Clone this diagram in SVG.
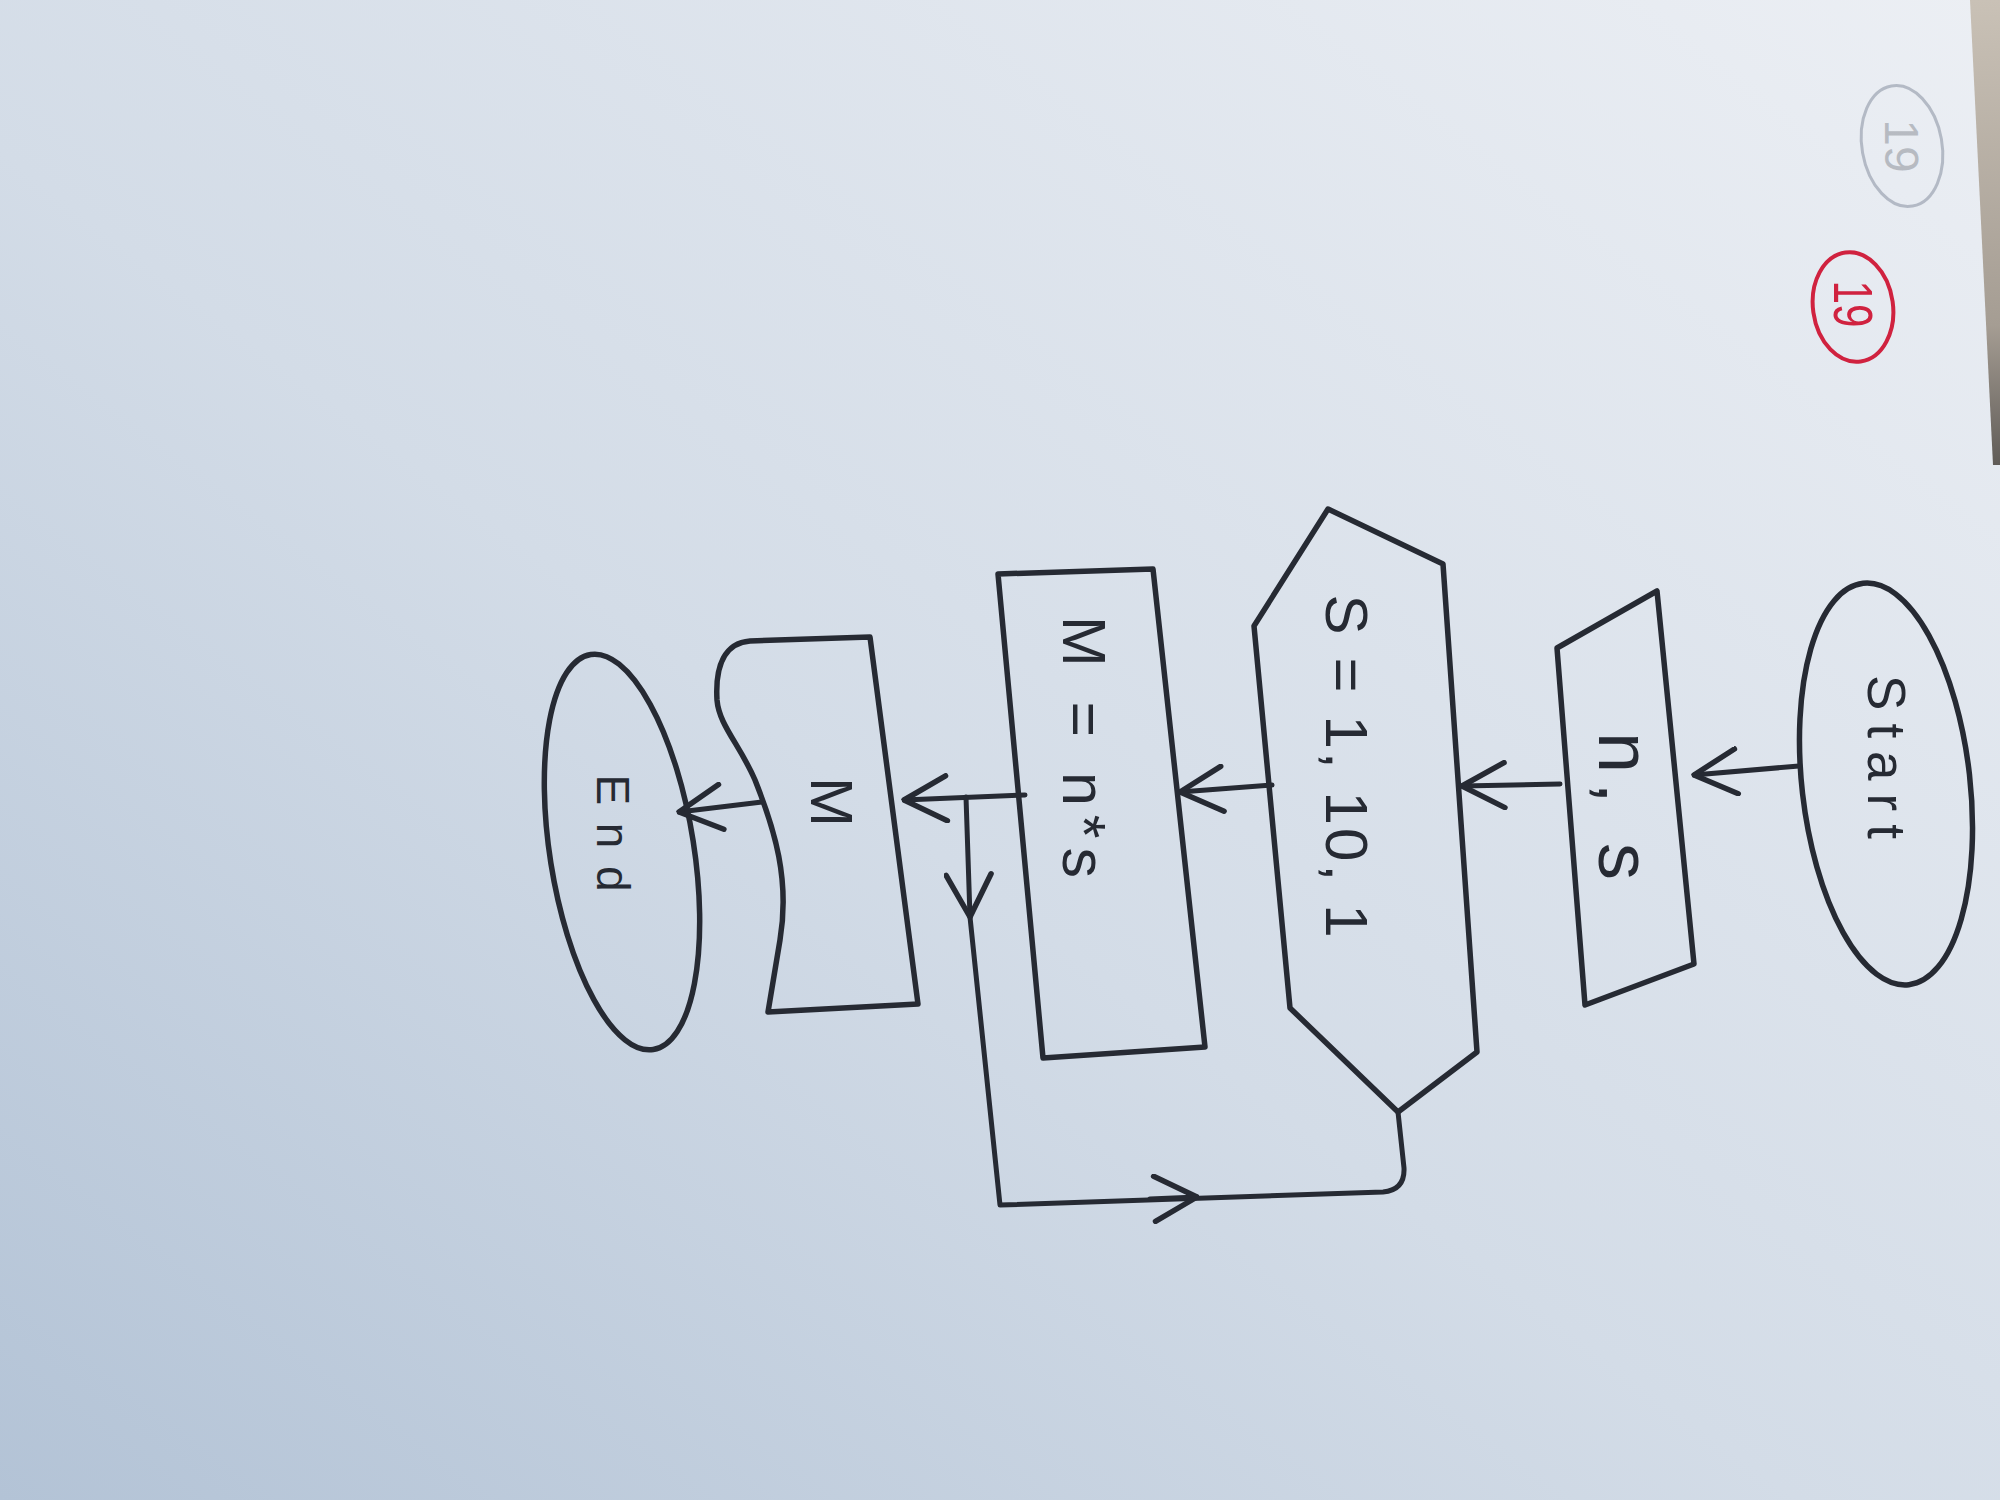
<svg xmlns="http://www.w3.org/2000/svg" width="2000" height="1500" viewBox="0 0 2000 1500">
  <defs>
    <linearGradient id="paper" x1="0" y1="1" x2="1" y2="0">
      <stop offset="0" stop-color="#b3c3d6"/>
      <stop offset="0.45" stop-color="#d3dce7"/>
      <stop offset="1" stop-color="#eceff4"/>
    </linearGradient>
    <linearGradient id="edge" x1="0" y1="0" x2="0" y2="1">
      <stop offset="0" stop-color="#c9c1b6"/>
      <stop offset="0.7" stop-color="#a59d93"/>
      <stop offset="1" stop-color="#5f5b57"/>
    </linearGradient>
    <marker id="arr" viewBox="0 0 20 20" refX="19" refY="10" markerWidth="50" markerHeight="50" markerUnits="userSpaceOnUse" orient="auto">
      <path d="M2,1 L19,10 L2,19" fill="none" stroke="#262a33" stroke-width="2.2" stroke-linecap="round" stroke-linejoin="round"/>
    </marker>
    <style>
      .shape { fill: none; stroke: #262a33; stroke-width: 5.5; stroke-linejoin: round; stroke-linecap: round; }
      .conn { fill: none; stroke: #262a33; stroke-width: 5; stroke-linejoin: round; stroke-linecap: round; }
      .lbl { font-family: "Liberation Sans", Arial, sans-serif; fill: #262a33; }
      .ghost { fill: none; stroke: #8f98a6; stroke-width: 3; opacity: 0.6; }
    </style>
  </defs>

  <rect x="0" y="0" width="2000" height="1500" fill="url(#paper)"/>
  <polygon points="1970,0 2000,0 2000,465 1993,465" fill="url(#edge)"/>

  <g id="ghost-page-number">
    <ellipse class="ghost" cx="1902" cy="146" rx="40" ry="61" transform="rotate(-10 1902 146)"/>
    <text class="lbl" font-size="48" text-anchor="middle" opacity="0.25" transform="translate(1885,146) rotate(90)">19</text>
  </g>

  <g id="page-number">
    <ellipse cx="1853" cy="307" rx="40" ry="55" fill="none" stroke="#d0223f" stroke-width="4" transform="rotate(-8 1853 307)"/>
    <text class="lbl" font-size="56" style="fill:#d0223f" text-anchor="middle" textLength="47" lengthAdjust="spacingAndGlyphs" transform="translate(1834,304) rotate(90)">19</text>
  </g>

  <g id="connectors">
    <path class="conn" d="M1799,766 L1694,775" marker-end="url(#arr)"/>
    <path class="conn" d="M1560,784 L1462,786" marker-end="url(#arr)"/>
    <path class="conn" d="M1272,785 L1180,792" marker-end="url(#arr)"/>
    <path class="conn" d="M1025,795 L904,800" marker-end="url(#arr)"/>
    <path class="conn" d="M762,802 L679,812" marker-end="url(#arr)"/>
    <path class="conn" d="M966,797 L970,917" marker-end="url(#arr)"/>
    <path class="conn" d="M970,917 L1000,1205 L1383,1192 Q1405,1190 1404,1168 L1398,1112"/>
    <path class="conn" d="M1150,1199 L1197,1197" marker-end="url(#arr)"/>
  </g>

  <g id="start">
    <ellipse class="shape" cx="1886" cy="784" rx="84" ry="202" transform="rotate(-6.5 1886 784)"/>
    <text class="lbl" font-size="53" text-anchor="middle" textLength="164" lengthAdjust="spacing" transform="translate(1868,757) rotate(90)">Start</text>
  </g>

  <g id="input-ns">
    <polygon class="shape" points="1557,648 1657,591 1694,964 1585,1005"/>
    <text class="lbl" font-size="74" text-anchor="middle" textLength="148" lengthAdjust="spacing" transform="translate(1599,806) rotate(90)">n, s</text>
  </g>

  <g id="loop-s">
    <polygon class="shape" points="1328,509 1443,564 1477,1052 1398,1112 1290,1008 1254,626"/>
    <text class="lbl" font-size="60" text-anchor="middle" textLength="343" lengthAdjust="spacing" transform="translate(1326,766) rotate(90)">S = 1, 10, 1</text>
  </g>

  <g id="process-m">
    <polygon class="shape" points="998,574 1153,569 1205,1047 1043,1058"/>
    <text class="lbl" font-size="61" text-anchor="middle" textLength="262" lengthAdjust="spacing" transform="translate(1063,747) rotate(90)">M = n*s</text>
  </g>

  <g id="output-m">
    <path class="shape" d="M870,637 L750,641 C725,643 715,665 717,700 C719,725 740,745 755,780 C775,830 790,880 780,940 L768,1012 L918,1004 Z"/>
    <text class="lbl" font-size="60" text-anchor="middle" transform="translate(811,802) rotate(90)">M</text>
  </g>

  <g id="end">
    <ellipse class="shape" cx="622" cy="852" rx="72" ry="200" transform="rotate(-9 622 852)"/>
    <text class="lbl" font-size="46" text-anchor="middle" textLength="117" lengthAdjust="spacing" transform="translate(597,833) rotate(90)">End</text>
  </g>
</svg>
